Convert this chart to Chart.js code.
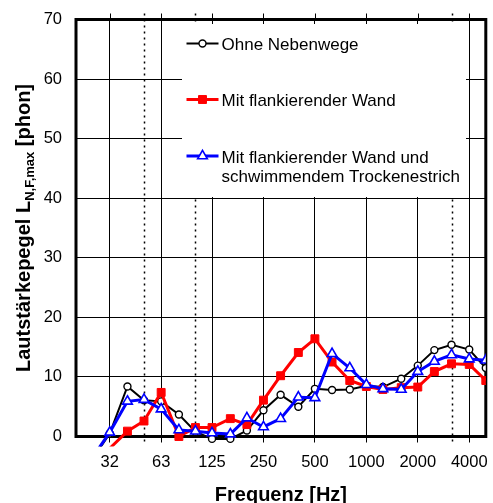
<!DOCTYPE html>
<html><head><meta charset="utf-8">
<script src="https://cdn.jsdelivr.net/npm/chart.js@4"></script>
<style>html,body{margin:0;padding:0;background:#fff}canvas{display:block}</style>
</head><body>
<canvas id="c" width="493" height="503"></canvas>
<script>
const freqs = [25,31.5,40,50,63,80,100,125,160,200,250,315,400,500,630,800,1000,1250,1600,2000,2500,3150,4000,5000];
const ohneNebenwege = [-3.8,0.5,8.4,6.1,5.9,3.7,0.8,-0.4,-0.4,1.0,4.4,7.0,5.0,8.0,7.8,7.9,8.5,8.3,9.7,11.9,14.5,15.4,14.6,11.5];
const flankierendeWand = [null,-2.0,0.9,2.6,7.4,0.0,1.5,1.5,3.0,2.0,6.1,10.2,14.1,16.4,12.5,9.4,8.4,7.9,8.2,8.3,10.9,12.2,12.1,9.4];
const wandUndEstrich = [-3.5,0.7,5.9,6.2,4.6,1.1,0.9,0.6,0.4,3.1,1.6,3.0,6.6,6.5,13.9,11.5,8.7,8.0,7.9,10.9,12.6,13.7,13.0,12.8];
const tickFreqs = [31.5,63,125,250,500,1000,2000,4000];
const tickLabels = ['32','63','125','250','500','1000','2000','4000'];
const dottedFreqs = [50,100,3150];
const seriesNames = [['Ohne Nebenwege'],['Mit flankierender Wand'],['Mit flankierender Wand und','schwimmendem Trockenestrich']];
const xTitle = 'Frequenz [Hz]';
const yTitleMain = 'Lautstärkepegel L';
const yTitleSub = 'N,F,max';
const yTitleEnd = ' [phon]';

const FONT = '"Liberation Sans", Arial, Helvetica, sans-serif';
Chart.defaults.font.family = FONT;

const toPts = arr => freqs.map((f, i) => ({x: f, y: arr[i]}));

const styles = [
  {color: '#000000', line: 2, shape: 'circle', r: 3.5, fill: '#ffffff', bw: 1.4},
  {color: '#ff0000', line: 3, shape: 'rect', r: 5.6, fill: '#ff0000', bw: 1},
  {color: '#0000ff', line: 3, shape: 'triangle', r: 5.6, fill: '#ffffff', bw: 1.6}
];

function drawMarker(ctx, st, x, y) {
  ctx.save();
  ctx.lineWidth = st.bw;
  ctx.strokeStyle = st.color;
  ctx.fillStyle = st.fill;
  ctx.beginPath();
  if (st.shape === 'circle') {
    ctx.arc(x, y, st.r, 0, Math.PI * 2);
  } else if (st.shape === 'rect') {
    const s = st.r * Math.SQRT1_2;
    ctx.rect(x - s, y - s, 2 * s, 2 * s);
  } else {
    let a = 0;
    ctx.moveTo(x + Math.sin(a) * st.r, y - Math.cos(a) * st.r);
    a += 2 * Math.PI / 3;
    ctx.lineTo(x + Math.sin(a) * st.r, y - Math.cos(a) * st.r);
    a += 2 * Math.PI / 3;
    ctx.lineTo(x + Math.sin(a) * st.r, y - Math.cos(a) * st.r);
    ctx.closePath();
  }
  ctx.fill();
  ctx.stroke();
  ctx.restore();
}

const framePlugin = {
  id: 'frame',
  beforeDatasetsDraw(chart) {
    const {ctx, chartArea: a, scales: {x}} = chart;
    ctx.save();
    ctx.strokeStyle = '#000';
    ctx.lineWidth = 1.5;
    ctx.setLineDash([2, 4]);
    dottedFreqs.forEach(f => {
      const px = Math.round(x.getPixelForValue(f)) + 0.5;
      ctx.beginPath();
      ctx.moveTo(px, a.top - 6);
      ctx.lineTo(px, a.bottom + 6);
      ctx.stroke();
    });
    ctx.setLineDash([]);
    ctx.lineWidth = 1;
    tickFreqs.forEach(f => {
      const px = Math.round(x.getPixelForValue(f)) + 0.5;
      ctx.beginPath();
      ctx.moveTo(px, a.top - 6);
      ctx.lineTo(px, a.top);
      ctx.stroke();
    });
    ctx.lineWidth = 3;
    ctx.strokeRect(a.left, a.top, a.right - a.left, a.bottom - a.top);
    ctx.restore();
  },
  afterDatasetsDraw(chart) {
    const {ctx} = chart;
    ctx.save();
    ctx.fillStyle = '#ffffff';
    ctx.fillRect(182, 24, 284, 173);
    const rows = [{ly: 43.5, ty: [50]}, {ly: 99.5, ty: [106]}, {ly: 156, ty: [162.5, 182]}];
    ctx.font = '17px ' + FONT;
    ctx.textBaseline = 'alphabetic';
    ctx.textAlign = 'left';
    rows.forEach((row, i) => {
      const st = styles[i];
      ctx.strokeStyle = st.color;
      ctx.lineWidth = st.line;
      ctx.beginPath();
      ctx.moveTo(186.5, row.ly);
      ctx.lineTo(218.5, row.ly);
      ctx.stroke();
      drawMarker(ctx, st, 202.5, row.ly);
      ctx.fillStyle = '#000';
      seriesNames[i].forEach((t, j) => ctx.fillText(t, 221.5, row.ty[j]));
    });
    ctx.restore();
  },
  afterDraw(chart) {
    const {ctx, chartArea: a} = chart;
    ctx.save();
    ctx.fillStyle = '#000';
    ctx.font = 'bold 20px ' + FONT;
    ctx.textAlign = 'center';
    ctx.textBaseline = 'alphabetic';
    ctx.fillText(xTitle, (a.left + a.right) / 2, 501);
    const mainFont = 'bold 20px ' + FONT;
    const subFont = 'bold 13px ' + FONT;
    ctx.font = mainFont;
    const w1 = ctx.measureText(yTitleMain).width;
    const w3 = ctx.measureText(yTitleEnd).width;
    ctx.font = subFont;
    const w2 = ctx.measureText(yTitleSub).width;
    const total = w1 + w2 + w3;
    ctx.translate(29.5, (a.top + a.bottom) / 2);
    ctx.rotate(-Math.PI / 2);
    ctx.textAlign = 'left';
    let sx = -total / 2;
    ctx.font = mainFont;
    ctx.fillText(yTitleMain, sx, 0);
    sx += w1;
    ctx.font = subFont;
    ctx.fillText(yTitleSub, sx, 4);
    sx += w2;
    ctx.font = mainFont;
    ctx.fillText(yTitleEnd, sx, 0);
    ctx.restore();
  }
};

const seriesData = [ohneNebenwege, flankierendeWand, wandUndEstrich];
const orders = [3, 2, 1];
const datasets = seriesData.map((arr, i) => ({
  label: seriesNames[i].join(' '),
  data: toPts(arr),
  borderColor: styles[i].color,
  borderWidth: styles[i].line,
  backgroundColor: styles[i].fill,
  pointStyle: styles[i].shape,
  pointRadius: styles[i].r,
  pointBorderWidth: styles[i].bw,
  pointBorderColor: styles[i].color,
  pointBackgroundColor: styles[i].fill,
  tension: 0,
  spanGaps: false,
  order: orders[i],
  clip: {left: 0, top: 0, right: 0, bottom: 10}
}));

new Chart(document.getElementById('c'), {
  type: 'line',
  data: {datasets},
  options: {
    responsive: false,
    animation: false,
    devicePixelRatio: 1,
    layout: {padding: {top: 19.5, right: 3.5, left: 0, bottom: 0}},
    plugins: {legend: {display: false}, tooltip: {enabled: false}},
    scales: {
      x: {
        type: 'logarithmic',
        min: 20,
        max: 5000,
        afterBuildTicks: s => { s.ticks = tickFreqs.map(v => ({value: v})); },
        afterFit: s => { s.height = 66.5; s.paddingLeft = 0; s.paddingRight = 0; },
        ticks: {
          autoSkip: false, maxRotation: 0, minRotation: 0,
          callback: (v, i) => tickLabels[i],
          font: {size: 16.5}, color: '#000', padding: 10
        },
        grid: {color: '#000', lineWidth: 1, drawTicks: true, tickLength: 6, tickColor: '#000'},
        border: {display: false}
      },
      y: {
        type: 'linear',
        min: 0,
        max: 70,
        afterFit: s => { s.width = 76; s.paddingTop = 0; s.paddingBottom = 0; },
        ticks: {stepSize: 10, font: {size: 16.5}, color: '#000', padding: 14},
        grid: {color: '#000', lineWidth: 1, drawTicks: false},
        border: {display: false}
      }
    }
  },
  plugins: [framePlugin]
});
</script>
</body></html>
